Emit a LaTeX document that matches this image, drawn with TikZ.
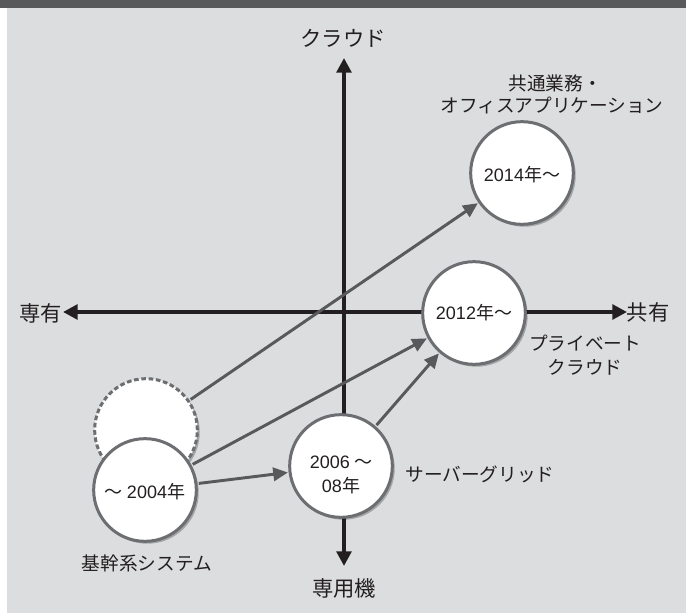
\documentclass[tikz,border=0pt]{standalone}
\usepackage{fontspec}
\setmainfont{Noto Sans CJK JP}
\newfontfamily\digitfont{Liberation Sans}
\usetikzlibrary{arrows.meta,shadows}
\definecolor{barcol}{HTML}{58595B}
\definecolor{bgcol}{HTML}{DCDDDE}
\definecolor{rimcol}{HTML}{6D6E71}
\definecolor{arrcol}{HTML}{58595B}
\definecolor{inkcol}{HTML}{231F20}
\begin{document}
\begin{tikzpicture}[x=0.75pt,y=-0.75pt,
  era/.style={circle, draw=rimcol, line width=2.25pt, fill=white, minimum size=77pt, inner sep=0pt,
    drop shadow={shadow xshift=1.8pt, shadow yshift=-1.8pt, fill=black, opacity=0.25}},
  ghost/.style={era, dash pattern=on 3.5pt off 2pt},
  axis/.style={draw=inkcol, line width=3pt, {Triangle[length=11pt,width=11pt]}-{Triangle[length=11pt,width=11pt]}},
  move/.style={draw=arrcol, line width=2.2pt, -{Triangle[length=11pt,width=10pt]}, shorten >=0.5pt, shorten <=1pt},
  axlabel/.style={font=\fontsize{16}{19}\selectfont, text=inkcol, inner sep=0pt},
  sublabel/.style={font=\fontsize{14}{17}\selectfont, text=inkcol, inner sep=0pt},
  yearlabel/.style={font=\fontsize{13.5}{18}\selectfont, text=inkcol, align=center, inner sep=0pt}
]
\useasboundingbox (0,0) rectangle (686,613);
\fill[white] (0,0) rectangle (686,613);
\fill[bgcol] (7,8) rectangle (686,613);
\fill[barcol] (0,0) rectangle (686,8);

% axes
\coordinate (ytop) at (344,58);
\coordinate (ybot) at (344,566);
\coordinate (xleft) at (63,312);
\coordinate (xright) at (627,312);
\draw[axis] (ybot) -- (ytop);
\draw[axis] (xleft) -- (xright);

\node[axlabel] (lblup) at (343,38) {クラウド};
\node[axlabel] (lbldown) at (344,588) {専用機};
\node[axlabel] (lblleft) at (41,313) {専有};
\node[axlabel] (lblright) at (648,312) {共有};

% circles
\node[ghost] (cghost) at (146,430) {};
\node[era] (c2004) at (145,490) {};
\node[era] (c2006) at (341,466) {};
\node[era] (c2012) at (474,313) {};
\node[era] (c2014) at (522,173) {};

\node[yearlabel] (y2014) at (522,175) {{\digitfont 2014}年〜};
\node[yearlabel] (y2012) at (474,313) {{\digitfont 2012}年〜};
\node[yearlabel] (y2004) at (145,492) {〜 {\digitfont 2004}年};
\node[yearlabel] (y2006) at (341,475) {{\digitfont 2006} 〜\\{\digitfont 08}年};

% connectors
\draw[move] (cghost) -- (c2014);
\draw[move] (c2004) -- (c2012);
\draw[move] (c2004) -- (c2006);
\draw[move] (c2006) -- (c2012);

% captions
\node[sublabel] (cap1a) at (555,83) {共通業務・};
\node[sublabel] (cap1b) at (552,105) {オフィスアプリケーション};
\node[sublabel] (cap2a) at (585,343) {プライベート};
\node[sublabel] (cap2b) at (585,367) {クラウド};
\node[sublabel] (cap3) at (480,474) {サーバーグリッド};
\node[sublabel] (cap4) at (147,563) {基幹系システム};
\end{tikzpicture}
\end{document}
